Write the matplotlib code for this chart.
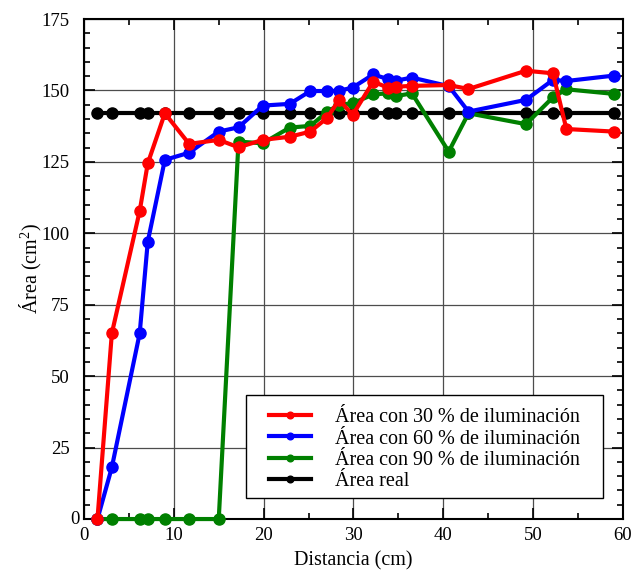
import numpy as np
import matplotlib
matplotlib.use("Agg")
import matplotlib.pyplot as plt
from matplotlib.patches import Rectangle
from matplotlib.ticker import MultipleLocator, FuncFormatter

plt.rcParams.update({
    "font.family": ["Liberation Serif", "DejaVu Serif"],
    "font.size": 14.5,
    "mathtext.default": "regular",
})

# distancia de la cámara (cm)
distancia = [1.5, 3.1, 6.2, 7.1, 9.0, 11.7, 15.0, 17.2, 19.9, 22.9, 25.2, 27.1,
             28.4, 29.9, 32.2, 33.8, 34.7, 36.5, 40.6, 42.8, 49.2, 52.2, 53.7, 59.0]

area_30 = [0, 65.0, 107.8, 124.5, 142.0, 131.3, 132.7, 130.1, 132.7, 133.8, 135.6, 140.5,
           146.8, 141.4, 153.1, 151.0, 151.3, 151.6, 151.9, 150.5, 156.9, 156.0, 136.5, 135.6]
area_60 = [0, 18.1, 65.0, 97.1, 125.7, 128.2, 135.6, 137.1, 144.7, 145.3, 149.8, 149.8,
           149.9, 151.0, 155.6, 154.0, 153.4, 154.5, 151.5, 142.6, 146.7, 153.7, 153.3, 155.2]
area_90 = [0, 0, 0, 0, 0, 0, 0, 132.1, 131.5, 137.0, 137.6, 142.6,
           145.0, 145.5, 148.6, 149.0, 148.0, 149.0, 128.6, 142.0, 138.2, 147.6, 150.4, 148.8]
area_real = [142.0] * len(distancia)

series = [
    ("Área con 30 % de iluminación", area_30, "#ff0000", 5),
    ("Área con 60 % de iluminación", area_60, "#0000ff", 4),
    ("Área con 90 % de iluminación", area_90, "#008000", 3),
    ("Área real", area_real, "#000000", 2),
]

fig = plt.figure(figsize=(6.33, 5.71), dpi=100)
ax = fig.add_axes([0.1327, 0.091, 0.8515, 0.8757])

for label, vals, color, z in series:
    ax.plot(distancia, vals, "-o", color=color, lw=3, ms=8, label=label,
            zorder=z, clip_on=False)

ax.set_xlim(0, 60)
ax.set_ylim(0, 175)
ax.xaxis.set_major_locator(MultipleLocator(10))
ax.xaxis.set_minor_locator(MultipleLocator(5))
ax.yaxis.set_major_locator(MultipleLocator(25))
ax.yaxis.set_minor_locator(MultipleLocator(5))
# the y "0" is written separately, tucked in next to the axis
ax.yaxis.set_major_formatter(FuncFormatter(lambda v, _: "" if v == 0 else f"{v:g}"))
ax.tick_params(which="both", direction="in", top=True, right=True, width=1.2,
               labelsize=13.5)
ax.tick_params(which="major", length=8)
ax.tick_params(which="minor", length=4)
ax.tick_params(axis="x", which="major", pad=6)
ax.tick_params(axis="y", which="major", pad=10.5)
ax.annotate("0", xy=(0, 0), xycoords=("axes fraction", "data"), xytext=(-3, 0),
            textcoords="offset points", ha="right", va="center", fontsize=13.5)
ax.grid(True, which="major", color="0.3", lw=0.9, zorder=0)
ax.set_axisbelow(True)
for sp in ax.spines.values():
    sp.set_linewidth(1.5)

ax.set_xlabel("Distancia (cm)")
ax.set_ylabel("Área (cm$^{2}$)")
ax.xaxis.set_label_coords(0.5, -0.064)
ax.yaxis.set_label_coords(-0.075, 0.5)

# legend box with wider side margins than top/bottom
box = (0.301, 0.042, 0.963 - 0.301, 0.248 - 0.042)
ax.add_patch(Rectangle(box[:2], box[2], box[3], transform=ax.transAxes,
                       facecolor="white", edgecolor="black", lw=1.0, zorder=6))
leg = ax.legend(loc="center", bbox_to_anchor=(box[0] + box[2] / 2, box[1] + box[3] / 2 - 0.006),
                borderaxespad=0, frameon=False, handlelength=2.05,
                labelspacing=0.1, borderpad=0, handletextpad=1.2, markerscale=0.6)
leg.set_zorder(7)

fig.savefig("out.png", dpi=100)
